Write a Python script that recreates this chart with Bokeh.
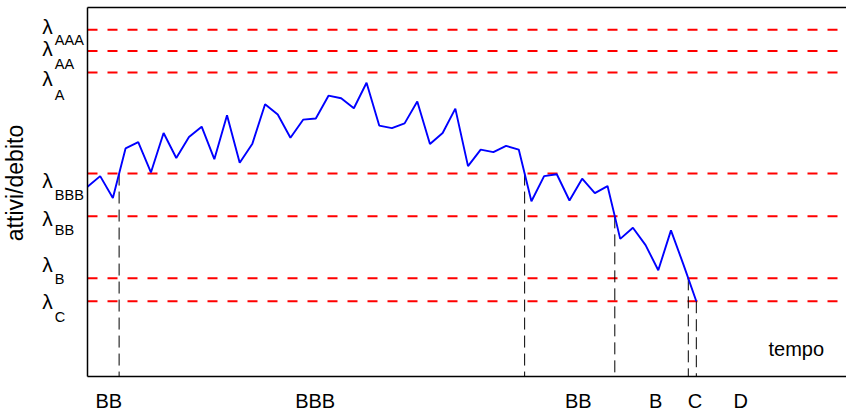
import math

from bokeh.embed import file_html
from bokeh.models import Label, Range1d
from bokeh.plotting import figure
from bokeh.resources import INLINE

# Asset / debt ratio sampled over time
tempo = list(range(49))
attivi_debito = [51.4, 54.3, 48.4, 61.8, 63.5, 55.3, 66.0, 59.2, 64.9, 67.7,
                 58.9, 70.8, 57.9, 63.1, 73.8, 71.0, 64.7, 69.6, 69.9, 76.1,
                 75.4, 72.7, 79.6, 68.0, 67.3, 68.6, 74.5, 63.0, 66.0, 72.6,
                 57.0, 61.5, 60.8, 62.5, 61.5, 47.5, 54.3, 54.8, 47.7, 53.6,
                 49.7, 51.6, 37.3, 40.3, 35.6, 28.8, 39.6, 30.2, 20.4]

# Rating thresholds (lambda levels)
classi = ["AAA", "AA", "A", "BBB", "BB", "B", "C"]
soglie = [94.0, 88.2, 82.4, 55.0, 43.4, 26.6, 20.4]

# Thresholds crossed by the path, in order of time
passaggi = ["BBB", "BBB", "BB", "B", "C"]

# Rating held in each time band, written under the axis
rating_bande = ["BB", "BBB", "BB", "B", "C", "D"]
rating_x = [1.68, 17.95, 38.7, 44.8, 47.9, 51.5]

# ---- layout -------------------------------------------------------------
# The figure frame covers the whole canvas; the plotting box is drawn by hand
# so that the lambda labels and the rating bands can sit outside it.
W, H = 846, 411
LEFT, TOP, BOTTOM = 87, 7, 35       # box edges, px from the canvas edges
X_END = 59.84                       # time at the right canvas edge
Y_END = 100.0                       # ratio at the top of the box
sx = (W - LEFT) / X_END             # px per time unit
sy = (H - TOP - BOTTOM) / Y_END     # px per ratio unit


def px_to_x(px):
    return (px - LEFT) / sx


def px_to_y(py):
    return (H - BOTTOM - py) / sy


FONT = "Liberation Sans"
LIFT = 0.4   # anchor sits this many font sizes above the drawn baseline


def add_text(p, px, py, text, size, align="left"):
    """Place a text with its baseline at canvas pixel (px, py)."""
    p.add_layout(Label(x=px_to_x(px), y=px_to_y(py - LIFT * size), text=text,
                       text_font=FONT, text_font_size=f"{size}px",
                       text_color="black", text_align=align,
                       text_baseline="alphabetic"))


p = figure(width=W, height=H, output_backend="svg", toolbar_location=None,
           x_range=Range1d(px_to_x(0), px_to_x(W)),
           y_range=Range1d(px_to_y(H), px_to_y(0)),
           x_axis_location=None, y_axis_location=None,
           min_border=0, min_border_left=0, min_border_right=0,
           min_border_top=0, min_border_bottom=0)
p.outline_line_color = None
p.xgrid.visible = False
p.ygrid.visible = False
p.background_fill_color = "white"
p.border_fill_color = "white"

x_right = px_to_x(W)

# red dashed threshold levels
p.segment(x0=[0] * len(soglie), y0=soglie, x1=[x_right] * len(soglie), y1=soglie,
          line_color="#ff0000", line_width=2, line_dash="10 10")

# time of each rating change: where the path crosses the threshold
livello = dict(zip(classi, soglie))
cross_x, cross_y = [], []
start, last = 0, -1.0
for nome in passaggi:
    lv = livello[nome]
    for i in range(start, len(attivi_debito) - 1):
        a, b = attivi_debito[i], attivi_debito[i + 1]
        if (a - lv) * (b - lv) <= 0 and a != b:
            xc = tempo[i] + (lv - a) / (b - a) * (tempo[i + 1] - tempo[i])
            if xc > last:
                cross_x.append(xc)
                cross_y.append(lv)
                start, last = i, xc
                break

p.segment(x0=cross_x, y0=cross_y, x1=cross_x, y1=[0] * len(cross_x),
          line_color="black", line_width=1, line_dash="12 6")

# the ratio itself
p.line(tempo, attivi_debito, line_color="#0000ff", line_width=1.9)

# plotting box: left, bottom and top edges
p.multi_line(xs=[[0, 0], [0, x_right], [0, x_right]],
             ys=[[0, Y_END], [0, 0], [Y_END, Y_END]],
             line_color="black", line_width=1.5)

# lambda labels on the left
lam_nudge = [5.5, 6, 14.5, 15, 10.5, -5, 8.5]   # px below the level line
sub_drop = [11, 13, 14, 12, 9, 11, 13]          # px from lambda to subscript baseline
for nome, lv, dn, sd in zip(classi, soglie, lam_nudge, sub_drop):
    base = H - BOTTOM - lv * sy + dn
    add_text(p, 41.7, base, "λ", 21)
    add_text(p, 54.3, base + sd, nome, 14.5)

# rating bands under the axis
for lab, xr in zip(rating_bande, rating_x):
    add_text(p, LEFT + xr * sx, 408, lab, 20, align="center")

# axis titles
add_text(p, 768, 356.5, "tempo", 20)
p.add_layout(Label(x=px_to_x(14.5), y=px_to_y(182.5), text="attivi/debito",
                   angle=math.pi / 2,
                   text_font=FONT, text_font_size="23px", text_color="black",
                   text_align="center", text_baseline="middle"))

open("out.html", "w").write(file_html(p, INLINE))
